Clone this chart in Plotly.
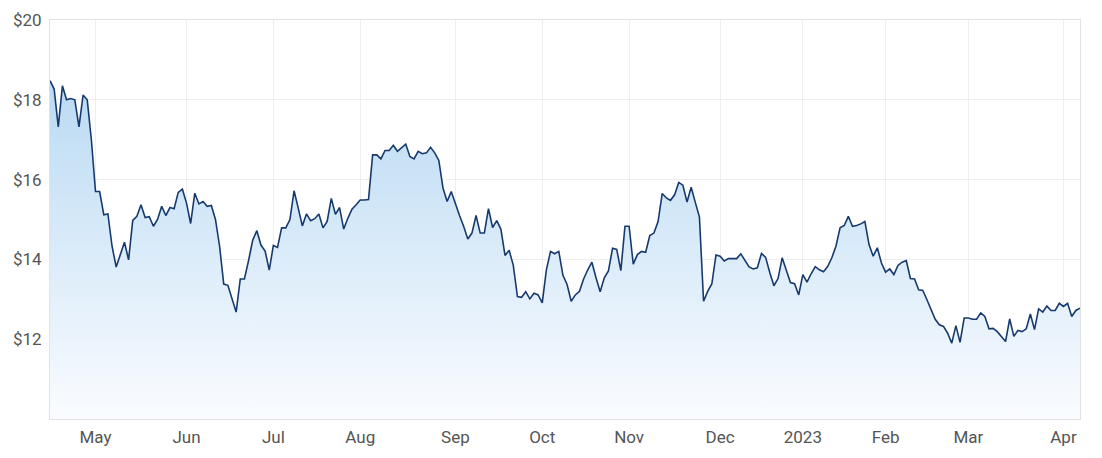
import pandas as pd
import plotly.graph_objects as go

# ASX trading days, 12 Apr 2022 - 11 Apr 2023
holidays = ["2022-04-15", "2022-04-18", "2022-04-25", "2022-06-13", "2022-09-22",
            "2022-12-26", "2022-12-27", "2023-01-02", "2023-01-26", "2023-04-07", "2023-04-10"]
all_days = pd.bdate_range("2022-04-12", "2023-04-11")
dates = [d.strftime("%Y-%m-%d") for d in all_days if d.strftime("%Y-%m-%d") not in holidays]

prices = [
    18.48, 18.27, 17.32, 18.35, 18.00, 18.03, 18.00, 17.32, 18.12, 18.00,
    17.00, 15.70, 15.70, 15.12, 15.14, 14.33, 13.81, 14.14, 14.43, 13.99,
    14.98, 15.08, 15.37, 15.05, 15.07, 14.83, 15.00, 15.33, 15.10, 15.30,
    15.27, 15.68, 15.76, 15.41, 14.90, 15.66, 15.39, 15.45, 15.33, 15.35,
    15.00, 14.33, 13.38, 13.35, 13.00, 12.68, 13.51, 13.51, 13.97, 14.48,
    14.72, 14.36, 14.21, 13.73, 14.35, 14.30, 14.79, 14.79, 15.00, 15.72,
    15.29, 14.84, 15.14, 14.97, 15.02, 15.14, 14.79, 14.95, 15.53, 15.13,
    15.30, 14.76, 15.03, 15.26, 15.37, 15.49, 15.49, 15.50, 16.62, 16.62,
    16.52, 16.73, 16.73, 16.86, 16.71, 16.79, 16.89, 16.58, 16.52, 16.71,
    16.65, 16.67, 16.81, 16.67, 16.48, 15.79, 15.45, 15.70, 15.39, 15.10,
    14.83, 14.51, 14.66, 15.10, 14.66, 14.66, 15.27, 14.80, 14.97, 14.76,
    14.10, 14.23, 13.85, 13.07, 13.05, 13.19, 13.01, 13.15, 13.11, 12.91,
    13.74, 14.20, 14.14, 14.20, 13.60, 13.37, 12.95, 13.11, 13.20, 13.51,
    13.74, 13.93, 13.54, 13.19, 13.54, 13.71, 14.28, 14.25, 13.72, 14.83,
    14.83, 13.88, 14.12, 14.20, 14.18, 14.60, 14.66, 14.95, 15.65, 15.54,
    15.48, 15.62, 15.93, 15.86, 15.44, 15.81, 15.43, 15.06, 12.95, 13.20,
    13.39, 14.11, 14.08, 13.96, 14.02, 14.02, 14.02, 14.14, 13.96, 13.81,
    13.76, 13.79, 14.15, 14.05, 13.67, 13.34, 13.52, 14.04, 13.73, 13.42,
    13.39, 13.11, 13.62, 13.43, 13.64, 13.82, 13.74, 13.69, 13.82, 14.04,
    14.33, 14.79, 14.85, 15.08, 14.83, 14.85, 14.89, 14.95, 14.37, 14.08,
    14.29, 13.91, 13.68, 13.76, 13.62, 13.85, 13.93, 13.97, 13.52, 13.51,
    13.24, 13.22, 12.99, 12.72, 12.50, 12.36, 12.32, 12.15, 11.90, 12.34,
    11.92, 12.53, 12.53, 12.50, 12.50, 12.66, 12.57, 12.26, 12.27, 12.19,
    12.05, 11.94, 12.51, 12.07, 12.22, 12.19, 12.26, 12.63, 12.24, 12.76,
    12.68, 12.83, 12.72, 12.72, 12.90, 12.82, 12.90, 12.57, 12.72, 12.78,
]

month_ticks = ["2022-05-02", "2022-06-01", "2022-07-01", "2022-08-01", "2022-09-01",
               "2022-10-03", "2022-11-01", "2022-12-01", "2023-01-03", "2023-02-01",
               "2023-03-01", "2023-04-03"]
month_labels = ["May", "Jun", "Jul", "Aug", "Sep", "Oct", "Nov", "Dec", "2023", "Feb", "Mar", "Apr"]

y_ticks = [12, 14, 16, 18, 20]
y_labels = ["$12", "$14", "$16", "$18", "$20"]

n = min(len(dates), len(prices))
dates = dates[:n]
prices = prices[:n]

fig = go.Figure()
fig.add_trace(go.Scatter(
    x=dates, y=prices, mode="lines",
    line=dict(color="#173a6e", width=1.6),
    fill="tozeroy",
    fillgradient=dict(type="vertical", start=10, stop=18.5,
                      colorscale=[[0, "rgba(250,252,255,1)"], [1, "rgba(186,218,243,1)"]]),
    hoverinfo="skip",
))

# the page body has an 8px default margin, so the figure is sized/offset to compensate
fig.update_layout(
    width=1094, height=450,
    margin=dict(l=42, r=22, t=12, b=39),
    paper_bgcolor="white", plot_bgcolor="white",
    showlegend=False,
    font=dict(family="Roboto, Arial, sans-serif", size=17, color="#555555"),
)
fig.update_xaxes(
    type="category", range=[0, n - 1], automargin=False,
    tickvals=month_ticks, ticktext=month_labels,
    showgrid=True, gridcolor="#eeeeee", gridwidth=1,
    showline=True, linecolor="#e2e2e2", linewidth=1, mirror=True,
    ticks="", ticklabelstandoff=3,
    tickfont=dict(size=17, color="#555555"),
)
fig.update_yaxes(
    range=[10, 20], tickvals=y_ticks, ticktext=y_labels, automargin=False,
    showgrid=True, gridcolor="#eeeeee", gridwidth=1,
    showline=True, linecolor="#e2e2e2", linewidth=1, mirror=True,
    ticks="", ticklabelstandoff=4, zeroline=False,
    tickfont=dict(size=17, color="#555555"),
)

fig.write_html("out.html")
